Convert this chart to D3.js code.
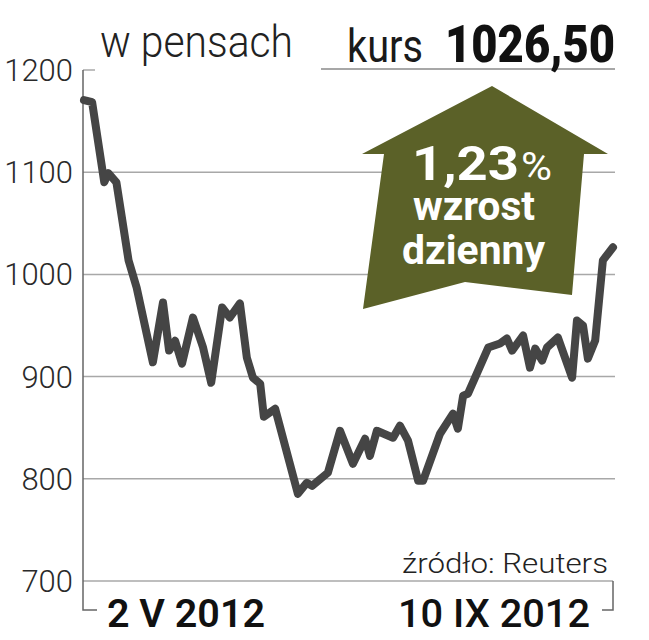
<!DOCTYPE html>
<html>
<head>
<meta charset="utf-8">
<script src="https://cdn.jsdelivr.net/npm/d3@7"></script>
<style>
  html, body { margin: 0; padding: 0; background: #fff; }
  svg { display: block; }
</style>
</head>
<body>
<svg id="chart" width="649" height="640"></svg>
<script>
// ---- data ----
const dayOffsets = [0,2,5,6,8,11,13,17,19.5,21,22.5,24.2,26.9,29.4,31.4,34.1,36,38.5,40.2,41.7,43.5,44.4,47.2,52.8,55,56.3,60.2,63.2,66.4,69.4,70.6,72.3,76.3,78,80,82.5,83.7,87.9,91.1,92.3,93.6,94.8,99.8,102.7,104.4,105.7,108.4,110.1,111.4,113.1,114.3,117,120.5,121.7,123.2,124.4,126.2,128.1,130.6];
const prices = [1170.6,1168.6,1090.2,1099,1090,1013.7,987,914,972.5,925.5,935,912.7,957.8,928.4,894,967.6,957.8,971.6,918.6,899,893,860.8,868.6,785.3,796.1,793.1,805.9,847,814.7,839.2,822.5,847,840.2,852,837.3,798,798,844.1,863.7,849,881.4,883.3,928.4,932.4,937.3,925.5,940.2,908.8,927.5,915.7,928.4,938.2,899,954.9,950,917.6,935.3,1013.7,1026.5];
const yTicks = [700, 800, 900, 1000, 1100, 1200];
const xLabels = ["2 V 2012", "10 IX 2012"];
const unitLabel = "w pensach";
const rateLabel = "kurs";
const rateValue = "1026,50";
const changeValue = "1,23";
const changeLines = ["wzrost", "dzienny"];
const sourceLabel = "źródło: Reuters";

const svg = d3.select("#chart");
const x = d3.scaleLinear().domain([0, 130.6]).range([84, 613]);
const y = d3.scaleLinear().domain([700, 1200]).range([581, 70]);
const axisX = 83, gridEnd = 615;

// gridlines
yTicks.forEach(t => {
  if (t === 1200) {
    svg.append("line").attr("x1", axisX).attr("x2", 95).attr("y1", y(t)).attr("y2", y(t))
      .attr("stroke", "#a8a8a8").attr("stroke-width", 1.5);
  } else {
    svg.append("line").attr("x1", axisX).attr("x2", t === 700 ? 613 : gridEnd)
      .attr("y1", y(t)).attr("y2", y(t))
      .attr("stroke", "#a8a8a8").attr("stroke-width", 1.5);
  }
});
// kurs underline
svg.append("line").attr("x1", 321).attr("x2", 615).attr("y1", 69).attr("y2", 69)
  .attr("stroke", "#8a8a8a").attr("stroke-width", 1.5);

// y axis line with bracket
svg.append("path")
  .attr("d", `M${axisX},${y(1200)} V610 H97`)
  .attr("fill", "none").attr("stroke", "#666").attr("stroke-width", 1.5);
// right bracket
svg.append("path")
  .attr("d", `M613,${y(700)} V610 H602`)
  .attr("fill", "none").attr("stroke", "#666").attr("stroke-width", 1.5);

// y tick labels
svg.selectAll(".ylab").data(yTicks).enter().append("text")
  .attr("class", "ylab")
  .attr("x", 73).attr("y", d => y(d) + 11)
  .attr("text-anchor", "end")
  .attr("font-family", "Roboto, sans-serif").attr("font-weight", 300)
  .attr("font-size", 31).attr("fill", "#2a2a2a")
  .text(d => d);

// title
svg.append("text").attr("x", 100).attr("y", 57)
  .attr("font-family", "Roboto, sans-serif").attr("font-weight", 300)
  .attr("font-size", 44).attr("fill", "#222")
  .attr("textLength", 193).attr("lengthAdjust", "spacingAndGlyphs")
  .text(unitLabel);

svg.append("text").attr("x", 347).attr("y", 62)
  .attr("font-family", "Roboto, sans-serif").attr("font-weight", 400)
  .attr("font-size", 46).attr("fill", "#1a1a1a")
  .attr("textLength", 76).attr("lengthAdjust", "spacingAndGlyphs")
  .text(rateLabel);
svg.append("text").attr("x", 445).attr("y", 62)
  .attr("font-family", "Roboto, sans-serif").attr("font-weight", 900)
  .attr("font-size", 52).attr("fill", "#111")
  .attr("textLength", 170).attr("lengthAdjust", "spacingAndGlyphs")
  .text(rateValue);

// arrow annotation
svg.append("path")
  .attr("d", "M492,86 L608,154 L584,154 L572,295 L465,282 L363,309 L384,154 L362,154 Z")
  .attr("fill", "#5b6128");
svg.append("text").attr("x", 412).attr("y", 180)
  .attr("font-family", "Roboto, sans-serif").attr("font-weight", 700)
  .attr("font-size", 48).attr("fill", "#fff")
  .attr("textLength", 107).attr("lengthAdjust", "spacingAndGlyphs")
  .text(changeValue);
svg.append("text").attr("x", 521).attr("y", 180)
  .attr("font-family", "Roboto, sans-serif").attr("font-weight", 400)
  .attr("font-size", 38).attr("fill", "#fff")
  .attr("textLength", 31).attr("lengthAdjust", "spacingAndGlyphs")
  .text("%");
svg.append("text").attr("x", 413).attr("y", 220)
  .attr("font-family", "Roboto, sans-serif").attr("font-weight", 700)
  .attr("font-size", 41).attr("fill", "#fff")
  .attr("textLength", 122).attr("lengthAdjust", "spacingAndGlyphs")
  .text(changeLines[0]);
svg.append("text").attr("x", 402).attr("y", 264)
  .attr("font-family", "Roboto, sans-serif").attr("font-weight", 700)
  .attr("font-size", 41).attr("fill", "#fff")
  .attr("textLength", 143).attr("lengthAdjust", "spacingAndGlyphs")
  .text(changeLines[1]);

// price line
const line = d3.line().x((d, i) => x(dayOffsets[i])).y(d => y(d));
svg.append("path").datum(prices)
  .attr("d", line)
  .attr("fill", "none").attr("stroke", "#454545").attr("stroke-width", 8)
  .attr("stroke-linejoin", "round").attr("stroke-linecap", "round");

// source
svg.append("text").attr("x", 608).attr("y", 573)
  .attr("text-anchor", "end")
  .attr("font-family", "Roboto, sans-serif").attr("font-weight", 300)
  .attr("font-size", 28).attr("fill", "#222")
  .attr("textLength", 206).attr("lengthAdjust", "spacingAndGlyphs")
  .text(sourceLabel);

// x labels
svg.append("text").attr("x", 107).attr("y", 627)
  .attr("font-family", "Roboto, sans-serif").attr("font-weight", 600)
  .attr("font-size", 38).attr("fill", "#111")
  .attr("textLength", 158).attr("lengthAdjust", "spacingAndGlyphs")
  .text(xLabels[0]);
svg.append("text").attr("x", 398).attr("y", 627)
  .attr("font-family", "Roboto, sans-serif").attr("font-weight", 500)
  .attr("font-size", 38).attr("fill", "#111")
  .attr("textLength", 192).attr("lengthAdjust", "spacingAndGlyphs")
  .text(xLabels[1]);
</script>
</body>
</html>
